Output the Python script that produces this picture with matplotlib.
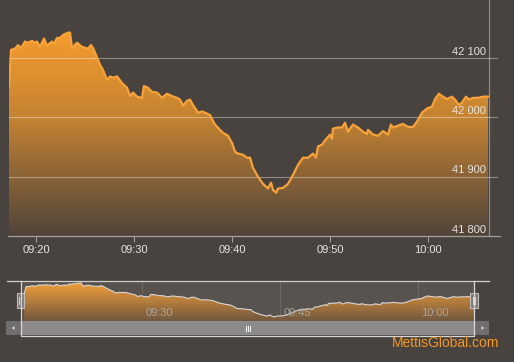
import numpy as np
import matplotlib
matplotlib.use('Agg')
import matplotlib.pyplot as plt
import matplotlib.transforms as mtransforms
from matplotlib.colors import LinearSegmentedColormap
from matplotlib.patches import Rectangle, Polygon

plt.rcParams['font.family'] = ['Liberation Sans', 'DejaVu Sans']

# ---- data (minutes after 09:00, index value) ----
minutes = [17.23, 17.44, 17.84, 18.15, 18.46, 18.86, 19.17, 19.58, 19.89, 20.09,
           20.40, 20.80, 21.11, 21.62, 21.83, 22.13, 22.44, 22.74, 23.26, 23.46,
           23.66, 24.17, 24.68, 25.30, 25.60, 25.81, 26.22, 26.52, 26.83, 27.24,
           27.54, 27.85, 28.26, 28.77, 29.28, 29.59, 29.89, 30.30, 30.81, 31.01,
           31.42, 31.83, 32.34, 32.85, 33.36, 33.87, 34.38, 34.69, 35.00, 35.41,
           35.71, 36.02, 36.53, 36.94, 37.24, 37.75, 38.26, 38.77, 39.08, 39.59,
           40.00, 40.31, 40.61, 41.12, 41.53, 41.84, 42.14, 42.65, 43.16, 43.67,
           43.98, 44.18, 44.49, 44.70, 45.21, 45.72, 46.23, 46.74, 47.25, 47.76,
           48.27, 48.57, 48.78, 49.19, 49.49, 50.00, 50.21, 50.31, 50.82, 51.23,
           51.54, 51.84, 52.35, 52.86, 53.37, 53.78, 53.88, 54.40, 54.91, 55.42,
           55.93, 56.23, 56.44, 56.95, 57.46, 57.97, 58.48, 58.89, 59.40, 59.91,
           60.42, 60.73, 61.13, 61.54, 61.95, 62.46, 62.77, 63.17, 63.48, 63.89,
           64.20, 64.61, 65.12, 65.63, 66.14]
values = [42052, 42114, 42116, 42122, 42117, 42128, 42126, 42129, 42126, 42128,
          42119, 42133, 42121, 42128, 42124, 42134, 42134, 42139, 42143, 42143,
          42117, 42126, 42119, 42116, 42122, 42117, 42101, 42089, 42080, 42063,
          42069, 42067, 42069, 42058, 42050, 42036, 42042, 42035, 42033, 42053,
          42050, 42043, 42042, 42033, 42040, 42036, 42033, 42030, 42020, 42028,
          42030, 42021, 42008, 42010, 42008, 42004, 41988, 41979, 41974, 41969,
          41957, 41942, 41939, 41937, 41932, 41932, 41915, 41900, 41888, 41880,
          41890, 41878, 41873, 41880, 41881, 41888, 41903, 41920, 41932, 41932,
          41939, 41932, 41951, 41954, 41961, 41971, 41964, 41981, 41983, 41983,
          41991, 41976, 41988, 41983, 41976, 41972, 41979, 41971, 41969, 41977,
          41971, 41988, 41983, 41986, 41989, 41984, 41984, 41993, 42008, 42015,
          42018, 42031, 42040, 42035, 42031, 42035, 42030, 42021, 42025, 42035,
          42030, 42033, 42033, 42035, 42035]

x_ticks = [20, 30, 40, 50, 60]
x_labels = ['09:20', '09:30', '09:40', '09:50', '10:00']
y_ticks = [41800, 41900, 42000, 42100]
y_labels = ['41 800', '41 900', '42 000', '42 100']
nav_ticks = [30, 45, 60]
nav_labels = ['09:30', '09:45', '10:00']
watermark = 'MettisGlobal.com'

BG = '#48433f'
W, H = 514, 362
fig = plt.figure(figsize=(W / 100, H / 100), dpi=100, facecolor=BG)


def px_axes(x0, y0, x1, y1, **kw):
    return fig.add_axes([x0 / W, 1 - y1 / H, (x1 - x0) / W, (y1 - y0) / H], **kw)


def gradient_fill(ax, x, y, base, colors, zorder=1):
    fb = ax.fill_between(x, y, base, facecolor='none', edgecolor='none')
    cmap = LinearSegmentedColormap.from_list('g', colors)
    grad = np.linspace(0, 1, 256).reshape(-1, 1)
    x0, x1 = ax.get_xlim()
    y0, y1 = ax.get_ylim()
    im = ax.imshow(grad, extent=[x0, x1, y0, y1], origin='lower', aspect='auto',
                   cmap=cmap, zorder=zorder, interpolation='bilinear')
    im.set_clip_path(fb.get_paths()[0], transform=ax.transData)
    return im


# ---- main chart ----
ax = px_axes(9, 0, 489, 236)
ax.set_facecolor(BG)
ax.set_xlim(17.23, 66.24)
ax.set_ylim(41800, 42198)
gradient_fill(ax, minutes, values, 41800,
              [(0.0, '#4f443a'), (0.25, '#8a6337'), (0.5, '#c48331'),
               (0.85, '#f29b2f'), (1.0, '#f6a033')])
ax.plot(minutes, values, color='#f8a23a', lw=1.6, zorder=4, solid_joinstyle='round')

for s in ['top', 'left', 'bottom']:
    ax.spines[s].set_visible(False)
ax.spines['right'].set_color('#8f8a86')
ax.spines['right'].set_linewidth(0.9)

blend = mtransforms.blended_transform_factory(ax.transAxes, ax.transData)
for v in y_ticks[1:]:
    ax.plot([0, 1.0167], [v, v], transform=blend, clip_on=False,
            color='white', alpha=0.38, lw=0.8, zorder=3)
ax.plot([-0.002, 1.023], [41800, 41800], transform=blend, clip_on=False,
        color='#a39e9a', lw=0.9, zorder=3)
for v, lab in zip(y_ticks, y_labels):
    ax.annotate(lab, xy=(1.0, v), xycoords=blend, xytext=(-2.4, 4.6),
                textcoords='offset points', ha='right', va='center',
                color='#e6e3e0', fontsize=8, zorder=5)

ax.set_xticks(x_ticks)
ax.set_xticklabels(x_labels)
ax.set_yticks([])
ax.tick_params(axis='x', direction='out', length=4.3, width=0.8,
               color='#a39e9a', labelcolor='#e6e3e0', labelsize=8, pad=2.5)

# ---- navigator ----
nav = px_axes(21, 281, 474, 321)
nav.set_facecolor('#58534f')
nav.set_xlim(16.90, 66.14)
nav.set_ylim(41841, 42159)
for t in nav_ticks:
    nav.axvline(t, color='#6c6763', lw=0.8, zorder=0.5)
gradient_fill(nav, minutes, values, 41841,
              [(0.0, '#70583f'), (0.5, '#b67d3c'), (1.0, '#f3a13a')])
nav.plot(minutes, values, color='#d9d6d3', lw=0.8, zorder=4)
nblend = mtransforms.blended_transform_factory(nav.transData, nav.transAxes)
for t, lab in zip(nav_ticks, nav_labels):
    nav.annotate(lab, xy=(t, 0.2), xycoords=nblend, xytext=(2.9, 0),
                 textcoords='offset points', ha='left', va='center',
                 color='#a8a39e', fontsize=8, zorder=5)
nav.set_xticks([])
nav.set_yticks([])
for s in nav.spines.values():
    s.set_visible(False)

# ---- overlay in pixel coordinates for navigator chrome ----
ov = fig.add_axes([0, 0, 1, 1], facecolor='none')
ov.set_xlim(0, W)
ov.set_ylim(H, 0)
ov.axis('off')
# scrollbar
ov.add_patch(Rectangle((6, 321), 14.5, 14, facecolor='#6f6d6e', edgecolor='none'))
ov.add_patch(Rectangle((474, 321), 15, 14, facecolor='#6f6d6e', edgecolor='none'))
ov.add_patch(Rectangle((20.5, 321), 453.5, 14, facecolor='#8c8a8d', edgecolor='none'))
ov.add_patch(Polygon([[12, 328], [14.5, 326], [14.5, 330]], closed=True,
                     facecolor='#e0e0e0', edgecolor='none'))
ov.add_patch(Polygon([[484, 328], [481.5, 326], [481.5, 330]], closed=True,
                     facecolor='#e0e0e0', edgecolor='none'))
for gx in [245.5, 247.5, 249.5]:
    ov.plot([gx, gx], [325.5, 330.5], color='#f2f2f2', lw=0.8)
# outline
ov.plot([7, 489], [281, 281], color='#d0cdca', lw=0.9)
ov.plot([20.5, 20.5, 474, 474], [281, 335.5, 335.5, 281], color='#d8d5d2', lw=0.9)
# handles
for hx in [16.5, 470.2]:
    ov.add_patch(Rectangle((hx, 293), 7.5, 15, facecolor='#807c79',
                           edgecolor='#bdbab7', lw=0.8))
    for lx in [hx + 2.8, hx + 4.7]:
        ov.plot([lx, lx], [297, 304], color='#d8d5d2', lw=0.7)

# watermark
ov.text(499, 343, watermark, ha='right', va='center', color='#f7961f', fontsize=10)

fig.savefig('out.png', dpi=100, facecolor=BG)
